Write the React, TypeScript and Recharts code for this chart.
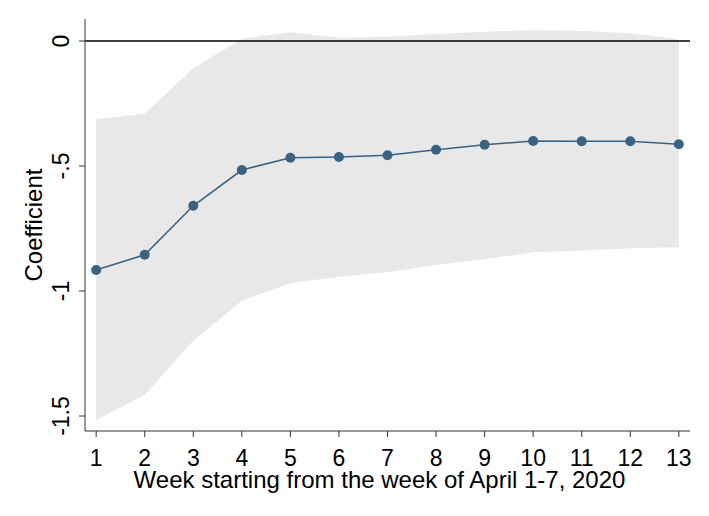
import { ComposedChart, Area, Line, XAxis, YAxis, ReferenceLine, Label } from 'recharts';

const weeks = [1, 2, 3, 4, 5, 6, 7, 8, 9, 10, 11, 12, 13];
const coefficients = [-0.916, -0.855, -0.659, -0.516, -0.467, -0.464, -0.457, -0.435, -0.415, -0.4, -0.401, -0.401, -0.413];
const ciLower = [-1.516, -1.416, -1.199, -1.039, -0.969, -0.943, -0.925, -0.896, -0.873, -0.845, -0.839, -0.829, -0.825];
const ciUpper = [-0.313, -0.291, -0.109, 0.009, 0.035, 0.013, 0.017, 0.028, 0.037, 0.044, 0.04, 0.031, 0.007];
const yTicks = [-1.5, -1, -0.5, 0];

const FONT = '"Liberation Sans", Arial, sans-serif';
const LINE_COLOR = '#3b6381';

// Stata style labels: -.5 instead of -0.5
const stataFormat = (v: number) => {
    if (v === 0) return '0';
    return String(v).replace('0.', '.');
};

const chartData = weeks.map((w, i) => ({
    week: w,
    coef: coefficients[i],
    ci: [ciLower[i], ciUpper[i]],
}));

const YTick = (props: any) => {
    const { x, y, payload } = props;
    const bx = x - 8;
    return (
        <text x={bx} y={y} transform={`rotate(-90 ${bx} ${y})`} textAnchor="middle" fontFamily={FONT} fontSize={23} fill="#000">
            {stataFormat(payload.value)}
        </text>
    );
};

const XTick = (props: any) => {
    const { x, y, payload } = props;
    return (
        <text x={x} y={y + 27} textAnchor="middle" fontFamily={FONT} fontSize={23} fill="#000">
            {payload.value}
        </text>
    );
};

export default function App() {
    return (
        <div style={{ position: 'absolute', left: 0, top: 0, width: 709, height: 516, background: '#fff' }}>
            <ComposedChart width={709} height={516} data={chartData} margin={{ top: 19, right: 19, bottom: 0, left: 0 }}>
                <XAxis
                    type="number"
                    dataKey="week"
                    domain={[0.77, 13.23]}
                    ticks={weeks}
                    allowDataOverflow
                    height={85}
                    tickSize={6}
                    tickMargin={2}
                    stroke="#333"
                    tick={<XTick />}
                >
                    <Label
                        content={(p: any) => {
                            const vb = p.viewBox;
                            return (
                                <text x={vb.x + vb.width / 2 - 8} y={488} textAnchor="middle" fontFamily={FONT} fontSize={24} fill="#000">
                                    Week starting from the week of April 1-7, 2020
                                </text>
                            );
                        }}
                    />
                </XAxis>
                <YAxis
                    type="number"
                    domain={[-1.56, 0.088]}
                    ticks={yTicks}
                    allowDataOverflow
                    width={85}
                    tickSize={6}
                    tickMargin={2}
                    stroke="#333"
                    tick={<YTick />}
                >
                    <Label
                        content={(p: any) => {
                            const vb = p.viewBox;
                            const cy = vb.y + vb.height / 2;
                            return (
                                <text x={42} y={cy} transform={`rotate(-90 42 ${cy})`} textAnchor="middle" fontFamily={FONT} fontSize={24} fill="#000">
                                    Coefficient
                                </text>
                            );
                        }}
                    />
                </YAxis>
                <ReferenceLine y={0} stroke="#000" strokeWidth={1.6} />
                <Area
                    type="linear"
                    dataKey="ci"
                    stroke="none"
                    fill="#cecece"
                    fillOpacity={0.47}
                    isAnimationActive={false}
                    activeDot={false}
                />
                <Line
                    type="linear"
                    dataKey="coef"
                    stroke={LINE_COLOR}
                    strokeWidth={1.6}
                    dot={{ r: 5, fill: LINE_COLOR, stroke: LINE_COLOR, strokeWidth: 0 }}
                    activeDot={false}
                    isAnimationActive={false}
                />
            </ComposedChart>
        </div>
    );
}
